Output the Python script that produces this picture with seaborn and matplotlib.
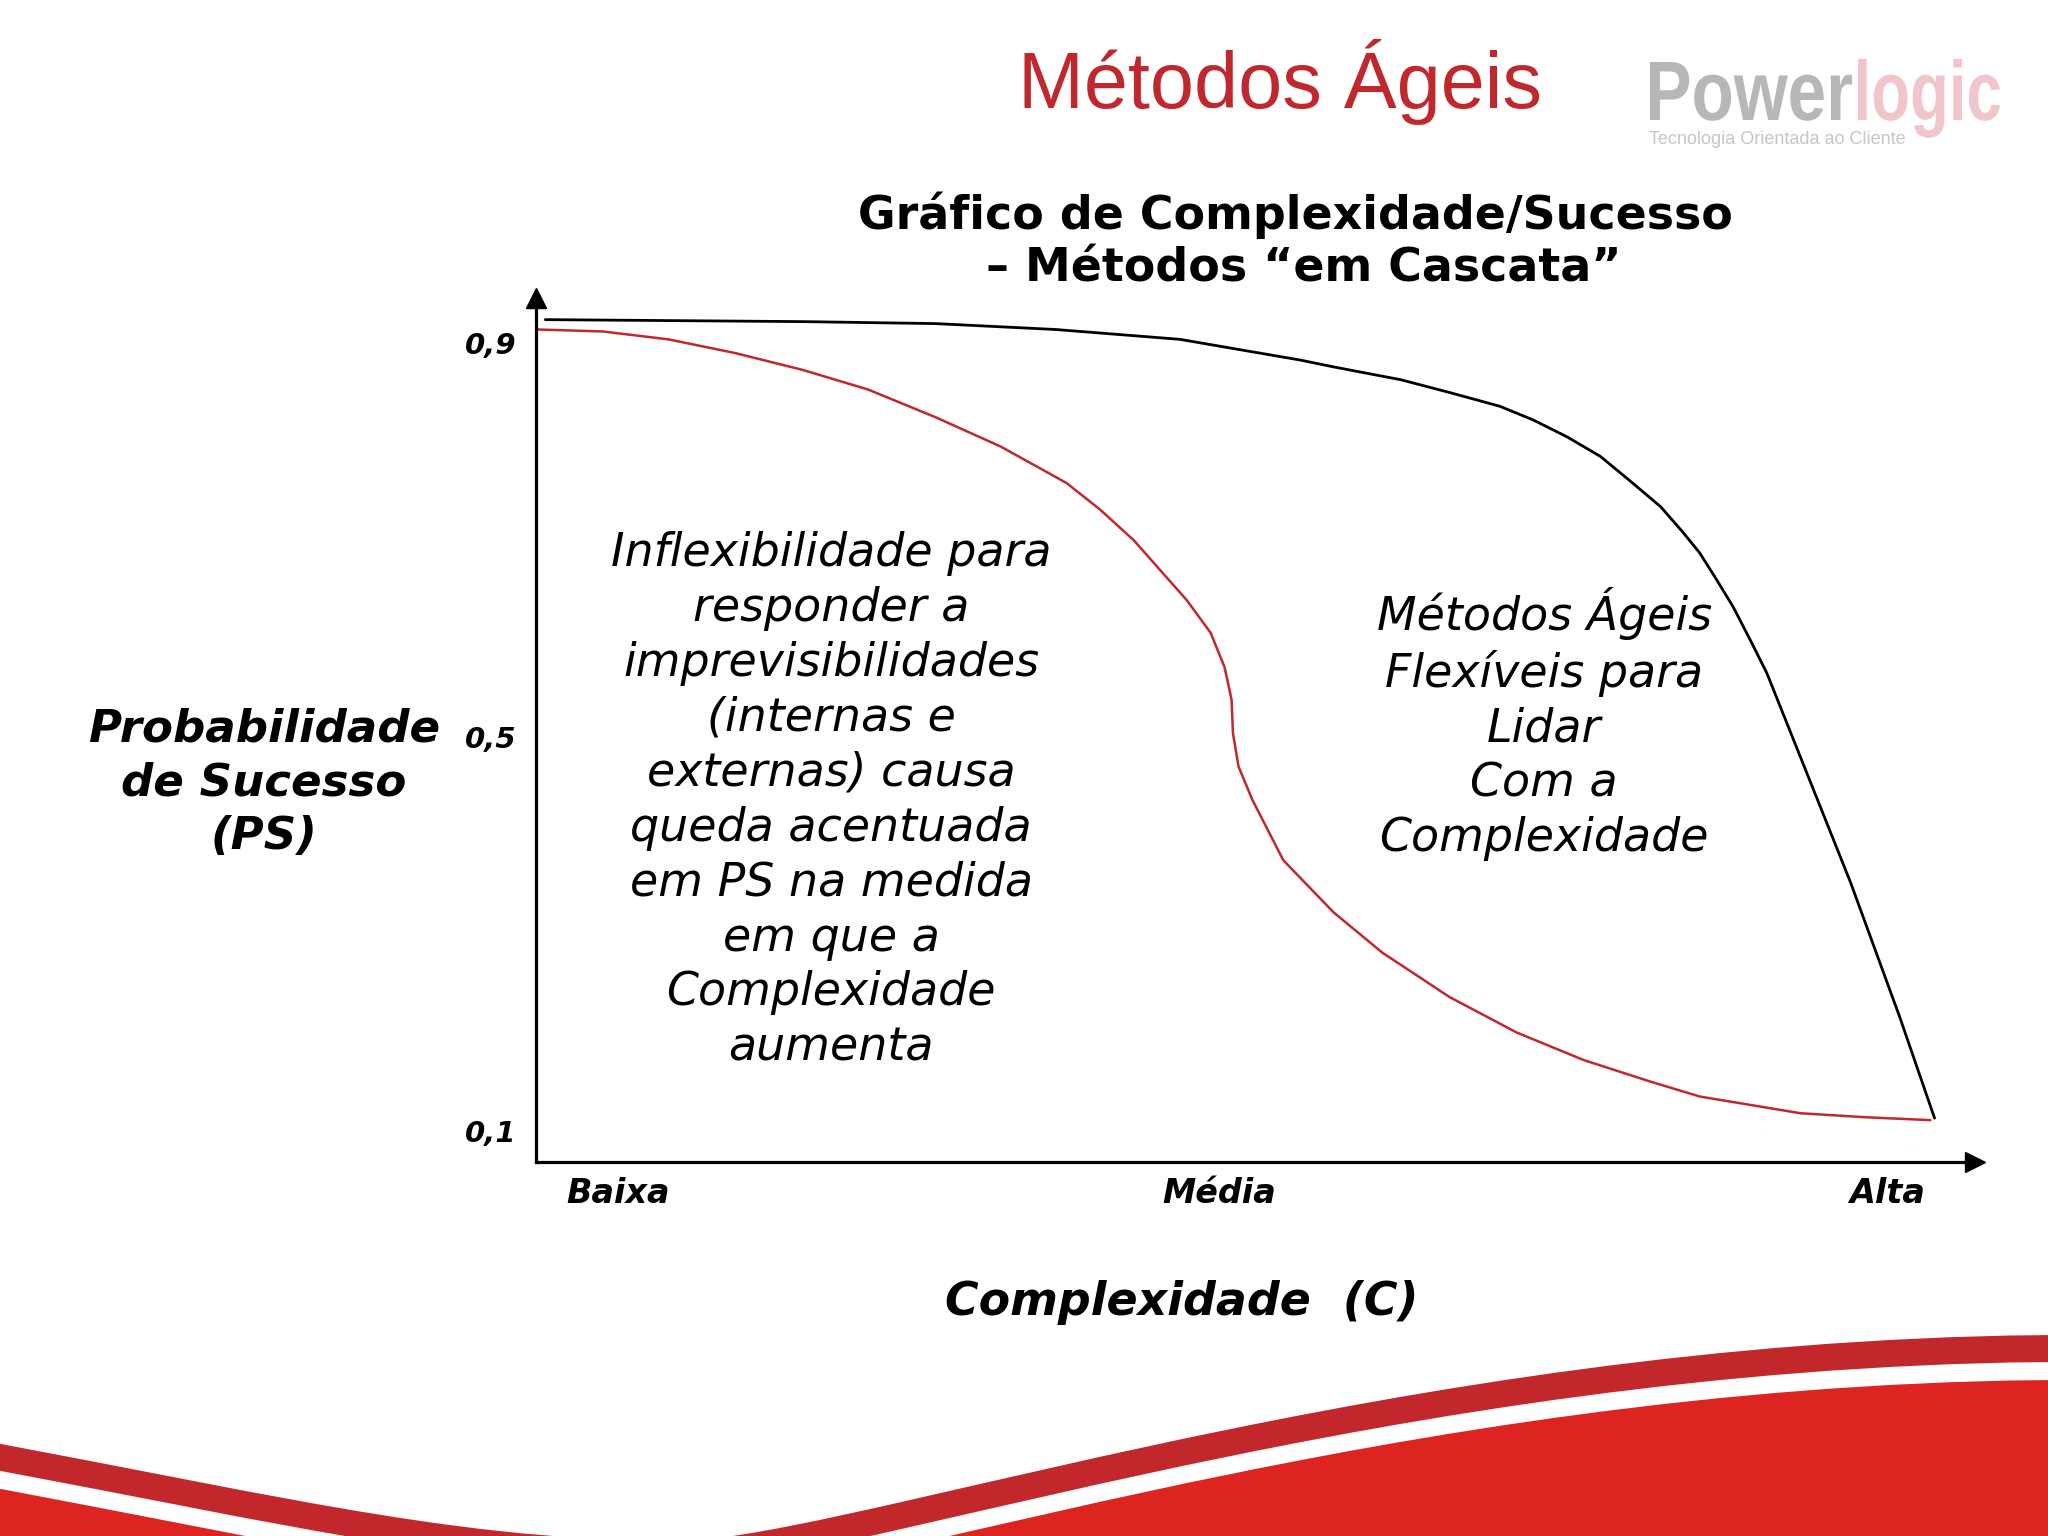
import numpy as np
import pandas as pd
import matplotlib.pyplot as plt
import seaborn as sns
from matplotlib.path import Path
from matplotlib.patches import PathPatch
from matplotlib.textpath import TextPath
from matplotlib.font_manager import FontProperties
from matplotlib.transforms import Affine2D

cascata_c = [0.002, 0.048, 0.095, 0.143, 0.191, 0.238, 0.286, 0.333, 0.380, 0.404,
             0.428, 0.466, 0.483, 0.493, 0.498, 0.499, 0.503, 0.513, 0.535, 0.571,
             0.606, 0.654, 0.702, 0.750, 0.798, 0.833, 0.905, 0.951, 0.998]
cascata_ps = [0.914, 0.912, 0.904, 0.890, 0.873, 0.853, 0.825, 0.795, 0.758, 0.731,
              0.700, 0.639, 0.606, 0.571, 0.538, 0.504, 0.470, 0.436, 0.375, 0.322,
              0.281, 0.236, 0.200, 0.172, 0.150, 0.135, 0.118, 0.114, 0.111]

ageis_c = [0.007, 0.191, 0.286, 0.372, 0.461, 0.547, 0.571, 0.619, 0.654, 0.690,
           0.714, 0.738, 0.762, 0.785, 0.805, 0.821, 0.833, 0.845, 0.857, 0.869,
           0.881, 0.903, 0.941, 0.976, 1.001]
ageis_ps = [0.924, 0.922, 0.920, 0.914, 0.904, 0.883, 0.876, 0.863, 0.850, 0.836,
            0.822, 0.805, 0.785, 0.758, 0.734, 0.708, 0.687, 0.660, 0.632, 0.599,
            0.565, 0.487, 0.352, 0.216, 0.113]

ps_ticks = [0.1, 0.5, 0.9]
ps_labels = ["0,1", "0,5", "0,9"]
c_labels = ["Baixa", "Média", "Alta"]
c_ticks = [0.059, 0.489, 0.967]

texto_esq = ("Inflexibilidade para\nresponder a\nimprevisibilidades\n(internas e\n"
             "externas) causa\nqueda acentuada\nem PS na medida\nem que a\n"
             "Complexidade\naumenta")
texto_dir = "Métodos Ágeis\nFlexíveis para\nLidar\nCom a\nComplexidade"

df = pd.concat([
    pd.DataFrame({"C": cascata_c, "PS": cascata_ps, "serie": "cascata"}),
    pd.DataFrame({"C": ageis_c, "PS": ageis_ps, "serie": "ageis"}),
])

sns.set_theme(style="white")
plt.rcParams['font.family'] = ['DejaVu Sans']
plt.rcParams['text.color'] = 'black'
plt.rcParams['xtick.color'] = 'black'
plt.rcParams['ytick.color'] = 'black'
plt.rcParams['axes.labelcolor'] = 'black'

fig = plt.figure(figsize=(20.48, 15.36), dpi=100)
fig.patch.set_facecolor("white")

# background layer in slide pixels: red swoosh and faded logo
bg = fig.add_axes([0, 0, 1, 1], zorder=0)
bg.set_xlim(0, 2048)
bg.set_ylim(1536, 0)
bg.axis("off")

curve_a = [(-20, 1440), (300, 1500), (480, 1545), (700, 1540)]
curve_b = [(700, 1540), (900, 1522), (1450, 1330), (2100, 1335)]


def curve_verts(dy):
    return [(x, y + dy) for x, y in curve_a + curve_b[1:]]


codes_curve = [Path.MOVETO] + [Path.CURVE4] * 6

fill_v = curve_verts(45) + [(2100, 1700), (-20, 1700), (-20, 1485)]
fill_c = codes_curve + [Path.LINETO, Path.LINETO, Path.CLOSEPOLY]
bg.add_patch(PathPatch(Path(fill_v, fill_c), facecolor="#de2420", edgecolor="none"))

top = curve_verts(0)
bot = curve_verts(27)[::-1]
band_v = top + bot + [top[0]]
band_c = codes_curve + [Path.LINETO] + [Path.CURVE4] * 6 + [Path.CLOSEPOLY]
bg.add_patch(PathPatch(Path(band_v, band_c), facecolor="#c2272b", edgecolor="none"))

logo_fp = FontProperties(family="Liberation Sans", weight="bold")
cap_h = TextPath((0, 0), "P", size=100, prop=logo_fp).get_extents().height


def logo_word(word, x0, x1, base, cap, color):
    tp = TextPath((0, 0), word, size=100, prop=logo_fp)
    ext = tp.get_extents()
    sx = (x1 - x0) / ext.width
    sy = cap / cap_h
    tr = Affine2D().translate(-ext.x0, 0).scale(sx, -sy).translate(x0, base)
    bg.add_patch(PathPatch(tr.transform_path(tp), facecolor=color, edgecolor="none"))


logo_word("Power", 1650, 1852, 120, 58, "#b7b7b7")
logo_word("logic", 1858, 2000, 120, 58, "#f1c6ca")
fig.text(0.868, 0.9089, "Tecnologia Orientada ao Cliente", fontsize=13, color="#c6c6c6",
         family=["Liberation Sans", "DejaVu Sans"], ha="center", va="center")

# main chart
ax = fig.add_axes([0.2615, 0.2435, 0.7029, 0.5625], zorder=2)
ax.patch.set_alpha(0)
sns.lineplot(data=df, x="C", y="PS", hue="serie", palette={"cascata": "#c0282d", "ageis": "black"},
             estimator=None, sort=False, legend=False, ax=ax)
ax.lines[0].set_linewidth(1.8)
ax.lines[1].set_linewidth(2.0)
for ln in ax.lines:
    ln.set_solid_joinstyle("round")

ax.set_xlim(0, 1.030)
ax.set_ylim(0.0685, 0.946)
for s in ["top", "right"]:
    ax.spines[s].set_visible(False)
for s in ["left", "bottom"]:
    ax.spines[s].set_color("black")
    ax.spines[s].set_linewidth(2.3)
ax.plot(1, 0, ">", color="black", markersize=15, transform=ax.transAxes, clip_on=False)
ax.plot(0, 1, "^", color="black", markersize=15, transform=ax.transAxes, clip_on=False)

ax.set_yticks(ps_ticks)
ax.set_yticklabels(ps_labels, fontsize=21, fontweight="bold", fontstyle="italic")
ax.set_xticks(c_ticks)
ax.set_xticklabels(c_labels, fontsize=24, fontweight="bold", fontstyle="italic")
ax.tick_params(axis="y", length=0, pad=14)
ax.tick_params(axis="x", length=0, pad=11)
ax.set_xlabel("")
ax.set_ylabel("")

fig.text(0.4058, 0.4788, texto_esq, fontsize=33, fontstyle="italic",
         ha="center", va="center", linespacing=1.285)
fig.text(0.754, 0.5286, texto_dir, fontsize=33, fontstyle="italic",
         ha="center", va="center", linespacing=1.28)

# slide texts
fig.text(0.625, 0.9466, "Métodos Ágeis", fontsize=57, color="#c0282d",
         family=["Liberation Sans", "DejaVu Sans"], ha="center", va="center")
fig.text(0.6327, 0.860, "Gráfico de Complexidade/Sucesso", fontsize=33,
         fontweight="bold", ha="center", va="center")
fig.text(0.6365, 0.8249, "– Métodos “em Cascata”", fontsize=33,
         fontweight="bold", ha="center", va="center")
fig.text(0.1289, 0.4905, "Probabilidade\nde Sucesso\n(PS)", fontsize=32.5, fontweight="bold",
         fontstyle="italic", ha="center", va="center", linespacing=1.32)
fig.text(0.577, 0.1523, "Complexidade  (C)", fontsize=33, fontweight="bold",
         fontstyle="italic", ha="center", va="center")

fig.savefig("out.png", dpi=100, facecolor="white")
